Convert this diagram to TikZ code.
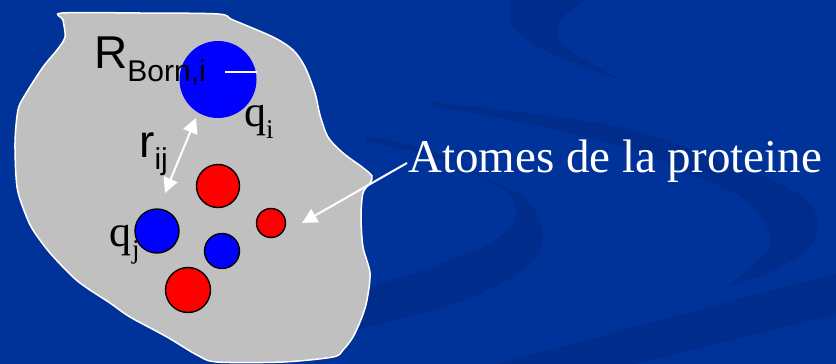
\documentclass[tikz,border=0pt]{standalone}
\usepackage{fontspec}
\setmainfont{Liberation Serif}
\newfontfamily\arialf{Liberation Sans}
\newfontfamily\seriff{Liberation Serif}
\usetikzlibrary{arrows.meta}
\definecolor{bgblue}{RGB}{0,51,153}
\definecolor{bandblue}{RGB}{0,45,140}
\definecolor{blobgray}{RGB}{192,192,192}
\definecolor{atomred}{RGB}{255,0,0}
\definecolor{atomblue}{RGB}{0,0,255}
\tikzset{
  band/.style={fill=bandblue, draw=none},
  atom/.style={circle, inner sep=0pt, draw=black, line width=1.4pt},
  redatom/.style={atom, fill=atomred},
  blueatom/.style={atom, fill=atomblue},
  lbl/.style={inner sep=0pt, anchor=base west, text=black},
  wharrow/.style={draw=white, line width=2pt, -{Triangle[length=15pt,width=15pt]}},
  whdouble/.style={draw=white, line width=2pt, {Triangle[length=15pt,width=15pt]}-{Triangle[length=15pt,width=15pt]}},
}
\begin{document}
\begin{tikzpicture}[x=1pt,y=-1pt]
\useasboundingbox (0,0) rectangle (836,364);
\fill[bgblue] (0,0) rectangle (836,364);
% background swirls
\begin{scope}
\clip (0,0) rectangle (836,364);
\fill[band] (510,-2) -- plot[smooth, tension=0.6] coordinates {(510,0) (512,25) (535,45) (575,63) (625,82)}
  -- plot[smooth, tension=0.6] coordinates {(625,82) (580,57) (558,37) (565,15) (587,0)} -- (587,-2) -- cycle;
\fill[band] plot[smooth, tension=0.6] coordinates {(430,102) (520,112) (620,127) (700,152) (770,179) (807,201) (818,225) (807,250) (770,272) (727,287)}
  -- plot[smooth, tension=0.6] coordinates {(727,287) (760,258) (771,237) (745,200) (700,178) (620,146) (520,122) (430,106)} -- cycle;
\fill[band] plot[smooth, tension=0.6] coordinates {(365,136) (430,150) (483,177) (527,200) (543,237) (527,267) (473,297) (407,317) (340,335)}
  -- plot[smooth, tension=0.6] coordinates {(340,335) (365,292) (423,270) (483,247) (513,223) (513,200) (487,180) (430,156) (365,142)} -- cycle;
\fill[band] (836,273) -- (490,366) -- (627,366) -- (836,315) -- cycle;
\end{scope}
% protein blob
\path[fill=blobgray, draw=white, line width=1.5pt] plot[smooth cycle, tension=0.5] coordinates {
 (62,13) (140,13) (218,14) (233,20) (273,37) (293,50) (305,67) (315,93) (320,115) (328,137)
 (343,153) (362,167) (372,176) (370,183) (363,193) (361,217) (363,247) (370,273) (367,300)
 (362,317) (353,337) (343,350) (333,357) (283,362) (217,362) (197,355) (167,337) (130,317)
 (110,303) (87,288) (73,277) (50,253) (33,230) (25,213) (17,187) (15,143) (18,110) (25,95)
 (43,67) (57,50) (65,37) (63,20)};
% big atom i
\node[circle, inner sep=0pt, minimum size=77pt, fill=atomblue] (ci) at (218,79.5) {};
\coordinate (rad1) at (225,72);
\coordinate (rad2) at (257,72);
\draw[white, line width=1.5pt] (rad1) -- (rad2);
\node[lbl] (rborn) at (94,68) {\arialf\fontsize{46}{46}\selectfont R\raisebox{-13pt}{\fontsize{30}{30}\selectfont Born,i}};
\node[lbl] (qi) at (244,126) {\seriff\fontsize{44}{44}\selectfont q\raisebox{-12pt}{\fontsize{27}{27}\selectfont i}};
% label q_j (behind atom j)
\node[lbl] (qj) at (109,246) {\seriff\fontsize{44}{44}\selectfont q\hspace{1pt}\raisebox{-12pt}{\fontsize{27}{27}\selectfont j}};
% other atoms
\node[redatom, minimum size=43pt] (ra) at (218,186) {};
\node[redatom, minimum size=29pt] (rb) at (271,223) {};
\node[blueatom, minimum size=44pt] (bj) at (157,231) {};
\node[blueatom, minimum size=35pt] (bb) at (222,251) {};
\node[redatom, minimum size=45pt] (rc) at (188,290) {};
% r_ij
\node[lbl] (rij) at (139,157) {\arialf\fontsize{46}{46}\selectfont r\raisebox{-12pt}{\fontsize{30}{30}\selectfont ij}};
\coordinate (rtop) at (196,118);
\coordinate (rbot) at (165,193);
\draw[whdouble] (rbot) -- (rtop);
% label for atoms
\node[inner sep=0pt, anchor=base west, text=white] (atomes) at (408,172) {\seriff\fontsize{47}{47}\selectfont Atomes de la proteine};
\coordinate (astart) at (407,163);
\coordinate (aend) at (302,223);
\draw[wharrow] (astart) -- (aend);
\end{tikzpicture}
\end{document}
